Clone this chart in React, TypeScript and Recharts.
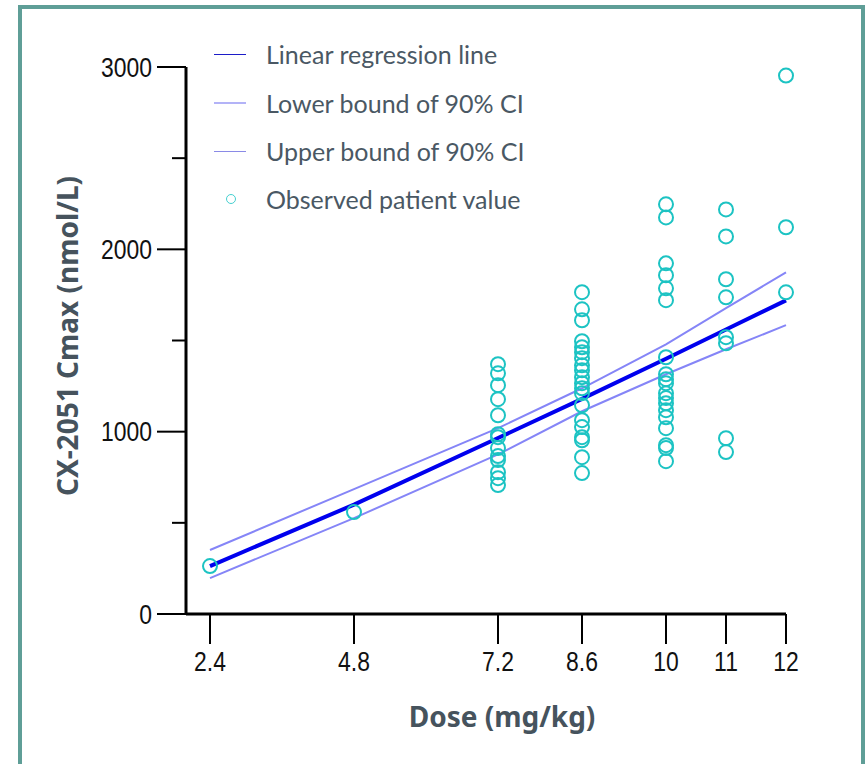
import React from "react";
import { ComposedChart, Line, Scatter, XAxis, YAxis, Legend } from "recharts";

// dose levels (mg/kg) used for the fitted lines
const doses = [2.4, 4.8, 7.2, 8.6, 10, 11, 12];
const fitLine = [263, 600, 965, 1180, 1400, 1560, 1720];
const lowerCI = [197, 526, 875, 1112, 1315, 1452, 1584];
const upperCI = [351, 685, 1019, 1238, 1479, 1677, 1874];

// observed Cmax per dose group
const obs24 = [263];
const obs48 = [559];
const obs72 = [1370, 1320, 1255, 1178, 1090, 986, 970, 910, 866, 844, 778, 745, 707];
const obs86 = [1765, 1671, 1611, 1496, 1463, 1436, 1403, 1364, 1337, 1299, 1266, 1238, 1211, 1145, 1063, 1025, 970, 953, 860, 773];
const obs10 = [2247, 2175, 1923, 1858, 1786, 1721, 1408, 1315, 1288, 1266, 1211, 1184, 1156, 1118, 1079, 1019, 926, 910, 838];
const obs11 = [2219, 2071, 1836, 1737, 1518, 1485, 964, 888];
const obs12 = [2953, 2121, 1764];

const xTicks = [2.4, 4.8, 7.2, 8.6, 10, 11, 12];
const yTicks = [0, 500, 1000, 1500, 2000, 2500, 3000];

const lineData = doses.map((d, i) => ({ dose: d, fit: fitLine[i], lower: lowerCI[i], upper: upperCI[i] }));

const groups: [number, number[]][] = [
  [2.4, obs24],
  [4.8, obs48],
  [7.2, obs72],
  [8.6, obs86],
  [10, obs10],
  [11, obs11],
  [12, obs12],
];
const scatterData = groups.flatMap(([d, vals]) => vals.map((v) => ({ dose: d, cmax: v })));

const legendItems = [
  { label: "Linear regression line", color: "#1c1cc8", kind: "line" },
  { label: "Lower bound of 90% CI", color: "#b3b3f7", kind: "line" },
  { label: "Upper bound of 90% CI", color: "#8a8ae6", kind: "line" },
  { label: "Observed patient value", color: "#45d0d0", kind: "dot" },
];

const tickFont = "'Liberation Sans', Arial, sans-serif";
const titleColor = "#46535d";

const YTick = (props: any) => {
  const { x, y, payload } = props;
  const major = payload.value % 1000 === 0;
  return (
    <g>
      <line x1={x - (major ? 29 : 14)} x2={x} y1={y} y2={y} stroke="#000" strokeWidth={2} />
      {major && (
        <text
          transform={`translate(${x - 34},${y}) scale(0.85,1)`}
          textAnchor="end"
          dy="0.36em"
          fontSize={27}
          fontFamily={tickFont}
          fill="#111"
        >
          {payload.value}
        </text>
      )}
    </g>
  );
};

const XTick = (props: any) => {
  const { x, y, payload } = props;
  return (
    <text
      transform={`translate(${x},${y}) scale(0.85,1)`}
      textAnchor="middle"
      dy="0.72em"
      fontSize={27}
      fontFamily={tickFont}
      fill="#111"
    >
      {payload.value}
    </text>
  );
};

const Ring = (props: any) => (
  <circle cx={props.cx} cy={props.cy} r={7} fill="none" stroke="#1cc3c3" strokeWidth={2} />
);

const LegendBox = () => (
  <div style={{ fontFamily: "Lato, sans-serif", fontSize: 25, color: "#4a5864" }}>
    {legendItems.map((it, i) => (
      <div key={it.label} style={{ display: "flex", alignItems: "center", height: i === 0 ? 50 : 48 }}>
        <div style={{ width: 67, display: "flex", alignItems: "center" }}>
          {it.kind === "line" ? (
            <div style={{ marginLeft: 15, width: 32, height: i === 1 ? 2 : 1, background: it.color }} />
          ) : (
            <div style={{ marginLeft: 27, width: 8, height: 8, borderRadius: "50%", border: `1.5px solid ${it.color}` }} />
          )}
        </div>
        <span>{it.label}</span>
      </div>
    ))}
  </div>
);

export default function App() {
  return (
    <div style={{ position: "absolute", left: 0, top: 0, width: 865, height: 764, overflow: "hidden", background: "#fff" }}>
      <div
        style={{
          position: "absolute",
          left: 18,
          top: 5,
          width: 847,
          height: 800,
          border: "4px solid #5f9e97",
          boxSizing: "border-box",
        }}
      />
      <div style={{ position: "absolute", left: 0, top: 0 }}>
        <ComposedChart
          width={865}
          height={764}
          data={lineData}
          margin={{ top: 67, right: 79, bottom: 90, left: 126 }}
        >
          <XAxis
            type="number"
            dataKey="dose"
            domain={[2, 12]}
            ticks={xTicks}
            height={60}
            axisLine={{ stroke: "#000", strokeWidth: 3 }}
            tickLine={{ stroke: "#000", strokeWidth: 2 }}
            tickSize={30}
            tickMargin={8}
            tick={<XTick />}
            interval={0}
            label={{
              content: () => (
                <text x={502} y={717} dy="0.36em" textAnchor="middle" fontSize={28} fontWeight="bold" fontFamily="'Noto Sans', sans-serif" fill={titleColor}>
                  Dose (mg/kg)
                </text>
              ),
            }}
          />
          <YAxis
            type="number"
            domain={[0, 3000]}
            ticks={yTicks}
            width={60}
            axisLine={{ stroke: "#000", strokeWidth: 3 }}
            tickLine={false}
            tickSize={0}
            tickMargin={0}
            tick={<YTick />}
            interval={0}
            label={{
              content: () => (
                <text
                  transform="translate(68,336) rotate(-90)"
                  dy="0.36em"
                  textAnchor="middle"
                  fontSize={28}
                  fontWeight="bold"
                  fontFamily="'Noto Sans', sans-serif"
                  fill={titleColor}
                >
                  CX-2051 Cmax (nmol/L)
                </text>
              ),
            }}
          />
          <Legend
            layout="vertical"
            align="center"
            verticalAlign="middle"
            content={<LegendBox />}
            wrapperStyle={{ position: "absolute", left: 199, top: 29, width: 400 }}
          />
          <Line dataKey="upper" type="linear" stroke="#8585f7" strokeWidth={2} dot={false} isAnimationActive={false} />
          <Line dataKey="lower" type="linear" stroke="#8585f7" strokeWidth={2} dot={false} isAnimationActive={false} />
          <Line dataKey="fit" type="linear" stroke="#0000ee" strokeWidth={4} dot={false} isAnimationActive={false} />
          <Scatter data={scatterData} dataKey="cmax" shape={<Ring />} isAnimationActive={false} />
        </ComposedChart>
      </div>
    </div>
  );
}
